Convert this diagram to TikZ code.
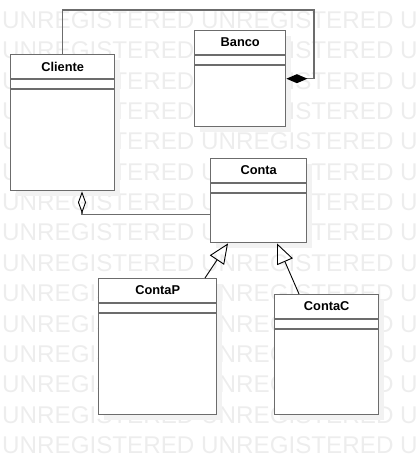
\documentclass[tikz,border=0pt]{standalone}
\usepackage{fontspec}
\newfontfamily\umlfont{Liberation Sans}
\usepackage{tikz}
\usetikzlibrary{calc}
\usetikzlibrary{arrows.meta, shadows}
\definecolor{boxgray}{RGB}{108,108,108}

\begin{document}
\begin{tikzpicture}[x=1pt, y=-1pt,
  umlclass/.style={rectangle, draw=boxgray, line width=1.4pt, fill=white, anchor=north west, inner sep=0pt,
                   drop shadow={shadow xshift=5pt, shadow yshift=-5pt, fill=black!5, opacity=1}},
  classname/.style={font=\umlfont\bfseries\fontsize{12.8}{14}\selectfont},
  sep/.style={draw=boxgray, line width=1.4pt},
  watermark/.style={anchor=base west, inner sep=0pt, text=black!7, font=\umlfont\fontsize{24.2}{28}\selectfont},
  assoc/.style={draw=boxgray, line width=1.4pt},
  gen/.style={draw=black, line width=0.9pt, -{Triangle[open, length=20pt, width=17pt]}}]
  \useasboundingbox (0,0) rectangle (418,454);

  \foreach \r in {0,...,14}
    \foreach \c/\w in {2/UNREGISTERED, 201/UNREGISTERED, 400/U}
      \node[watermark] (wm-\r-\c) at (\c, 28.5+30.35*\r) {\w};

  \node[umlclass, minimum width=104, minimum height=136] (cli) at (10,54)  {};
  \node[umlclass, minimum width=91,  minimum height=96]  (ban) at (194,30) {};
  \node[umlclass, minimum width=96,  minimum height=84]  (con) at (210,158) {};
  \node[umlclass, minimum width=118, minimum height=136] (cp)  at (98,278) {};
  \node[umlclass, minimum width=104, minimum height=120] (cc)  at (274,294) {};

  \node[classname] (cli-name) at ($(cli.north)+(0,12.5)$) {Cliente};
  \node[classname] (ban-name) at ($(ban.north)+(0,12.5)$) {Banco};
  \node[classname] (con-name) at ($(con.north)+(0,12.5)$) {Conta};
  \node[classname] (cp-name)  at ($(cp.north)+(0,12.5)$)  {ContaP};
  \node[classname] (cc-name)  at ($(cc.north)+(0,12.5)$)  {ContaC};

  \foreach \n in {cli, ban, con, cp, cc} {
    \draw[sep] ($(\n.north west)+(0,25)$) -- ($(\n.north east)+(0,25)$);
    \draw[sep] ($(\n.north west)+(0,35)$) -- ($(\n.north east)+(0,35)$);
  }

  \coordinate (cb)  at (314,10);
  \coordinate (agg) at ($(cli.south west)+(72,0)$);

  \draw[assoc, -{Diamond[length=21pt, width=9pt, black]}] (cli.north) |- (cb) |- (ban.east);
  \draw[assoc, -{Diamond[open, length=22pt, width=8pt, black, line width=0.9pt]}]
        ($(con.south west)+(0,-29)$) -| (agg);
  \draw[gen] ($(cp.north west)+(107,0)$) -- ($(con.south west)+(18,0)$);
  \draw[gen] ($(cc.north west)+(25,0)$)  -- ($(con.south west)+(67,0)$);

\end{tikzpicture}
\end{document}
